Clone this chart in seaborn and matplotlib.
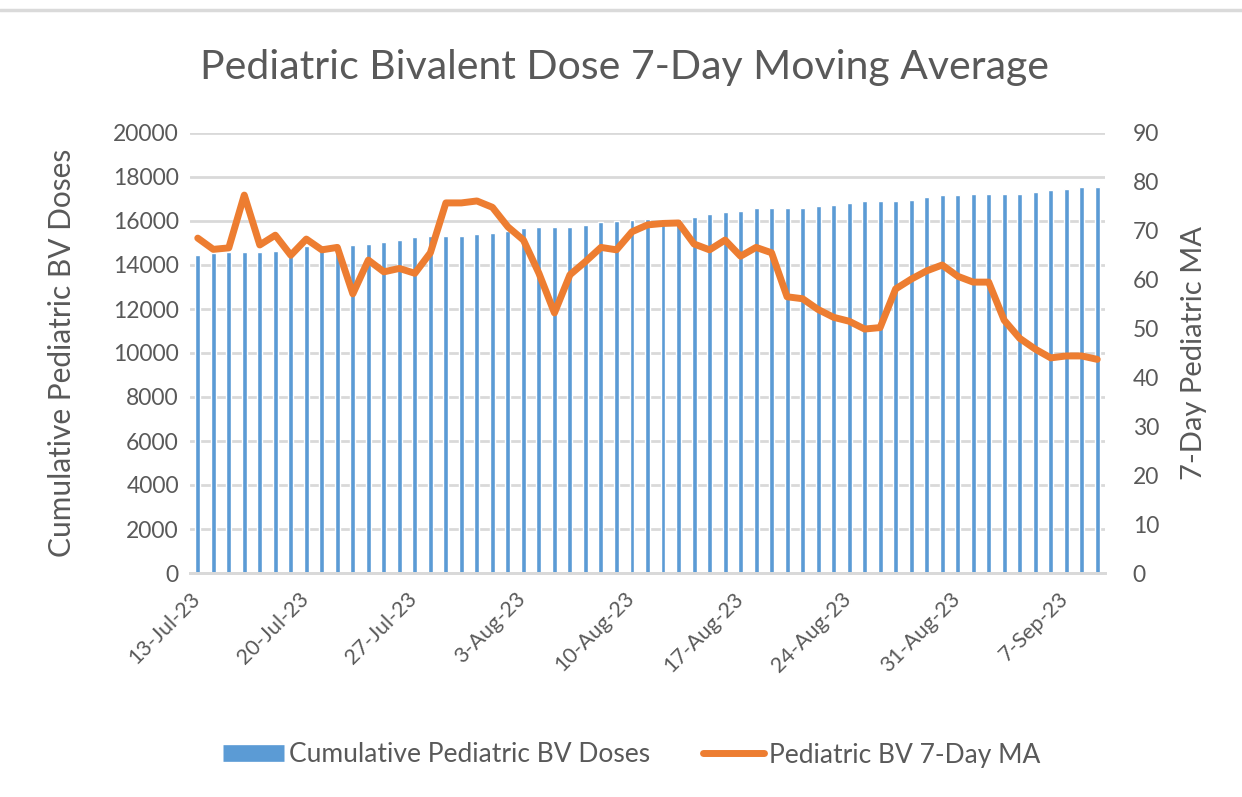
import pandas as pd
import matplotlib
matplotlib.use("Agg")
import matplotlib.pyplot as plt
import matplotlib.dates as mdates
from matplotlib.lines import Line2D
import seaborn as sns

# one bar / one MA point per day, 13-Jul-23 .. 9-Sep-23
start_date = "2023-07-13"
n_days = 59

cumulative_doses = [
    14450, 14550, 14600, 14580, 14580, 14650, 14720, 14860, 14900, 14880,
    14900, 14970, 15030, 15120, 15260, 15330, 15330, 15330, 15400, 15470,
    15550, 15670, 15740, 15740, 15740, 15800, 15950, 16000, 16050, 16100,
    16100, 16100, 16200, 16320, 16390, 16470, 16600, 16600, 16600, 16600,
    16670, 16740, 16820, 16890, 16890, 16890, 16950, 17100, 17170, 17170,
    17240, 17240, 17240, 17240, 17320, 17390, 17470, 17530, 17530,
]
ma_7day = [
    68.5, 66.2, 66.5, 77.3, 67.1, 69.1, 65.0, 68.3, 66.1, 66.6,
    57.1, 64.0, 61.6, 62.3, 61.3, 65.5, 75.7, 75.7, 76.1, 74.8,
    70.8, 68.1, 61.3, 53.2, 61.0, 63.7, 66.6, 66.1, 69.8, 71.2,
    71.5, 71.6, 67.3, 66.1, 68.1, 64.8, 66.6, 65.5, 56.5, 56.1,
    53.9, 52.3, 51.5, 49.9, 50.2, 58.1, 60.1, 61.8, 63.0, 60.7,
    59.5, 59.5, 51.7, 48.0, 45.8, 44.0, 44.4, 44.4, 43.7,
]

BAR_COLOR = "#5B9BD5"
LINE_COLOR = "#ED7D31"
TEXT_COLOR = "#595959"
GRID_COLOR = "#D9D9D9"

sns.set_theme(style="white")
plt.rcParams["font.family"] = ["Lato", "DejaVu Sans"]
plt.rcParams["text.color"] = TEXT_COLOR

dates = pd.date_range(start_date, periods=n_days, freq="D")
day_start = mdates.date2num(dates.to_pydatetime())
df = pd.DataFrame({
    "x": day_start + 0.5,
    "doses": cumulative_doses,
    "ma": ma_7day,
})

fig = plt.figure(figsize=(12.42, 7.97), dpi=100)
ax = fig.add_axes([190 / 1242, 1 - 573 / 797, 915 / 1242, 440 / 797])

sns.barplot(data=df, x="x", y="doses", native_scale=True, color=BAR_COLOR,
            saturation=1, width=0.32, ax=ax, zorder=2)
ax.set_xlim(day_start[0], day_start[-1] + 1)
ax.set_ylim(0, 20000)
ax.set_yticks(range(0, 20001, 2000))
ax.yaxis.grid(True, color=GRID_COLOR, linewidth=2, zorder=0)
ax.set_axisbelow(True)

ax2 = ax.twinx()
sns.lineplot(data=df, x="x", y="ma", color=LINE_COLOR, linewidth=5,
             ax=ax2, solid_joinstyle="round", solid_capstyle="round")
ax2.set_ylim(0, 90)
ax2.set_yticks(range(0, 91, 10))
ax2.set_xlim(day_start[0], day_start[-1] + 1)

tick_pos = day_start[::7]
tick_lbl = [d.strftime("%d-%b-%y").lstrip("0") for d in dates[::7]]
ax.set_xticks(tick_pos)
ax.set_xticklabels(tick_lbl, rotation=45, ha="right", rotation_mode="anchor")

for a in (ax, ax2):
    for side in ("top", "right", "left"):
        a.spines[side].set_visible(False)
    a.spines["bottom"].set_color(GRID_COLOR)
    a.spines["bottom"].set_linewidth(2)
ax.tick_params(axis="y", length=0, labelsize=16.5, labelcolor=TEXT_COLOR, pad=8)
ax2.tick_params(axis="y", length=0, labelsize=16.5, labelcolor=TEXT_COLOR, pad=20)
ax.tick_params(axis="x", length=7, width=2, color=GRID_COLOR, direction="out",
               labelsize=15.5, labelcolor=TEXT_COLOR, pad=4)
ax2.tick_params(axis="x", bottom=False, labelbottom=False)

ax.set_xlabel("")
ax.set_ylabel("Cumulative Pediatric BV Doses", fontsize=21.5, color=TEXT_COLOR)
ax.yaxis.set_label_coords((76 - 190) / 915, 0.5)
ax2.set_xlabel("")
ax2.set_ylabel("7-Day Pediatric MA", fontsize=21, color=TEXT_COLOR)
ax2.yaxis.set_label_coords((1181 - 190) / 915, 0.5)

fig.text(625 / 1242, 1 - 67 / 797, "Pediatric Bivalent Dose 7-Day Moving Average",
         ha="center", va="center", fontsize=29.5, color=TEXT_COLOR)

handles = [
    Line2D([0], [0], color=BAR_COLOR, linewidth=12, solid_capstyle="butt"),
    Line2D([0], [0], color=LINE_COLOR, linewidth=5, solid_capstyle="round"),
]
fig.legend(handles, ["Cumulative Pediatric BV Doses", "Pediatric BV 7-Day MA"],
           loc="center", bbox_to_anchor=(632 / 1242, 1 - 755 / 797), ncol=2,
           frameon=False, fontsize=19, handlelength=2.3, handletextpad=0.2,
           columnspacing=2.0, labelcolor=TEXT_COLOR)

# light grey border line along the top of the screenshot
fig.add_artist(Line2D([0, 1], [1 - 10 / 797, 1 - 10 / 797], color="#DADADA",
                      linewidth=2.5, transform=fig.transFigure))

fig.savefig("out.png", dpi=100)
